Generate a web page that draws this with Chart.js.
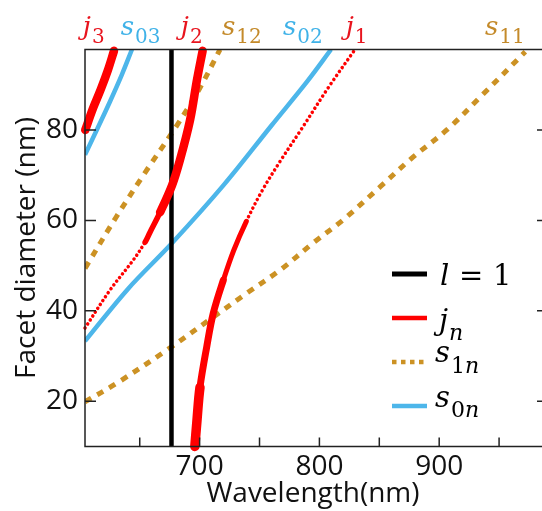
<!DOCTYPE html>
<html>
<head>
<meta charset="utf-8">
<script src="https://cdn.jsdelivr.net/npm/chart.js@4.4.1/dist/chart.umd.min.js"></script>
<style>
  html, body { margin: 0; padding: 0; background: #fff; }
</style>
</head>
<body>
<canvas id="chart1" width="542" height="511"></canvas>
<script>
// wavelength (nm) vs facet diameter (nm)
var lineL1 = [{x: 676.5, y: 10}, {x: 676.5, y: 97.8}];
var j3 = [{x: 604.5, y: 80}, {x: 611, y: 84.8}, {x: 617.5, y: 89}, {x: 623.5, y: 93.3}, {x: 628.5, y: 97.5}];
var j2 = [{x: 604.3, y: 36.2}, {x: 625.2, y: 44.6}, {x: 644.5, y: 51.2}, {x: 654.5, y: 55.2}, {x: 658.6, y: 57.4},
          {x: 667, y: 61.8}, {x: 677, y: 67.8}, {x: 683.6, y: 73.4}, {x: 692, y: 82.2}, {x: 697.8, y: 91.1}, {x: 702.5, y: 97.5}];
var j1 = [{x: 696, y: 10}, {x: 697.8, y: 15.8}, {x: 700.3, y: 23.1}, {x: 705.9, y: 32}, {x: 711.4, y: 39.5},
          {x: 719.8, y: 46.8}, {x: 728.5, y: 53.4}, {x: 739, y: 59.8}, {x: 752, y: 66.5}, {x: 767.5, y: 73.2},
          {x: 784.5, y: 80}, {x: 808, y: 89.6}, {x: 829.7, y: 97.8}];
var s03 = [{x: 604.3, y: 74.5}, {x: 615, y: 80.5}, {x: 625, y: 86.2}, {x: 635, y: 92.2}, {x: 643.5, y: 97.8}];
var s02 = [{x: 604.3, y: 33.3}, {x: 640, y: 44.8}, {x: 677, y: 55}, {x: 720, y: 67.8}, {x: 760, y: 81},
           {x: 790, y: 90.8}, {x: 809.7, y: 97.8}];
var s12 = [{x: 604.3, y: 49.4}, {x: 630, y: 60.6}, {x: 655, y: 70.8}, {x: 680, y: 80.6}, {x: 700, y: 89.2}, {x: 717, y: 97.8}];
var s11 = [{x: 604.3, y: 19.9}, {x: 630.8, y: 24}, {x: 672.5, y: 31.3}, {x: 711.2, y: 38.6}, {x: 739.3, y: 43.9},
           {x: 767.1, y: 49}, {x: 794.7, y: 55}, {x: 819.7, y: 60.1}, {x: 850.6, y: 67.4}, {x: 878.1, y: 74},
           {x: 906.3, y: 80}, {x: 934.3, y: 87.3}, {x: 971.9, y: 97.3}];

var xTicks = [650, 700, 750, 800, 850, 900, 950];
var xLabels = [700, 800, 900];
var yTicks = [20, 40, 60, 80];

var RED = '#ff0000', BLUE = '#4db6ea', GOLD = '#cc9224';

// curve names along the top edge: [letter, subscript, wavelength of left edge, colour]
var topTags = [
  ['j', '3', 602.5, '#e8141e'], ['s', '03', 634.1, '#3fb2e8'], ['j', '2', 684.3, '#e8141e'],
  ['s', '12', 718.7, '#c48a2a'], ['s', '02', 769.6, '#3fb2e8'], ['j', '1', 822, '#e8141e'],
  ['s', '11', 938.2, '#c48a2a']
];

var SERIF = '"DejaVu Serif", serif';
var SANS = '"Open Sans", "Liberation Sans", sans-serif';

function mathText(c, x, y, main, sub, color, big, small, drop) {
  c.fillStyle = color;
  c.textAlign = 'left';
  c.textBaseline = 'alphabetic';
  c.font = 'italic ' + big + 'px ' + SERIF;
  c.fillText(main, x, y);
  x += c.measureText(main).width + 1;
  for (var i = 0; i < sub.length; i++) {
    var ch = sub[i];
    c.font = (ch === 'n' ? 'italic ' : '') + small + 'px ' + SERIF;
    c.fillText(ch, x, y + drop);
    x += c.measureText(ch).width;
  }
}

var frame = {
  id: 'frame',
  afterDraw: function (chart) {
    var c = chart.ctx, a = chart.chartArea, xs = chart.scales.x, ys = chart.scales.y;
    c.save();
    c.strokeStyle = '#222';
    c.lineWidth = 1.5;
    c.beginPath();
    c.moveTo(542, a.top); c.lineTo(a.left, a.top); c.lineTo(a.left, a.bottom); c.lineTo(542, a.bottom);
    xTicks.forEach(function (v) {
      var p = xs.getPixelForValue(v);
      c.moveTo(p, a.bottom); c.lineTo(p, a.bottom - 9);
    });
    yTicks.forEach(function (v) {
      var p = ys.getPixelForValue(v);
      c.moveTo(a.left, p); c.lineTo(a.left + 11, p);
      c.moveTo(542, p); c.lineTo(537, p);
    });
    c.stroke();

    topTags.forEach(function (t) {
      mathText(c, xs.getPixelForValue(t[2]), 35, t[0], t[1], t[3], 26, 20, 8);
    });

    // legend
    var lx = 392, lw = 35;
    c.lineWidth = 5; c.strokeStyle = '#000';
    c.beginPath(); c.moveTo(lx, 274); c.lineTo(lx + lw, 274); c.stroke();
    c.lineWidth = 4.5; c.strokeStyle = RED;
    c.beginPath(); c.moveTo(lx, 318); c.lineTo(lx + lw, 318); c.stroke();
    c.lineWidth = 4.5; c.strokeStyle = GOLD; c.setLineDash([4.5, 4.5]);
    c.beginPath(); c.moveTo(lx, 362); c.lineTo(lx + lw, 362); c.stroke();
    c.setLineDash([]);
    c.lineWidth = 4.5; c.strokeStyle = BLUE;
    c.beginPath(); c.moveTo(lx, 406); c.lineTo(lx + lw, 406); c.stroke();

    c.fillStyle = '#000';
    c.font = 'italic 29px ' + SERIF;
    c.fillText('l', 440, 285);
    c.font = '29px ' + SERIF;
    c.fillText('=', 459, 285);
    c.fillText('1', 493, 285);
    mathText(c, 439, 330, 'j', 'n', '#000', 29, 22, 10);
    mathText(c, 435, 362, 's', '1n', '#000', 29, 22, 11);
    mathText(c, 435, 407, 's', '0n', '#000', 29, 22, 10);
    c.restore();
  }
};

function midY(ctx) { return (ctx.p0.parsed.y + ctx.p1.parsed.y) / 2; }
function widthJ2(ctx) { var y = midY(ctx); return y < 56 ? 3.5 : (y < 62 ? 5.5 : 8.5); }
function dashJ2(ctx) { return midY(ctx) < 56 ? [0.1, 4.6] : []; }
function widthJ1(ctx) { var y = midY(ctx); return y < 25 ? 9.5 : (y < 45 ? 7 : (y < 58 ? 5 : 3.5)); }
function dashJ1(ctx) { return midY(ctx) < 58 ? [] : [0.1, 4.8]; }

function curve(data, color, width, order, extra) {
  var ds = {
    data: data, showLine: true, borderColor: color, backgroundColor: color,
    borderWidth: width, pointRadius: 0, tension: 0.35, order: order, fill: false
  };
  for (var k in extra) ds[k] = extra[k];
  return ds;
}

function build() {
  var ctx = document.getElementById('chart1').getContext('2d');
  return new Chart(ctx, {
    type: 'scatter',
    data: {
      datasets: [
        curve(s11, GOLD, 5, 6, {borderDash: [7, 7]}),
        curve(s12, GOLD, 5, 6, {borderDash: [7, 7]}),
        curve(s02, BLUE, 4.5, 5, {}),
        curve(s03, BLUE, 4.5, 5, {}),
        curve(lineL1, '#000', 4.5, 4, {tension: 0}),
        curve(j3, RED, 8.5, 1, {borderCapStyle: 'round', clip: 6}),
        curve(j2, RED, 8.5, 1, {borderCapStyle: 'round', clip: 6,
          segment: {borderWidth: widthJ2, borderDash: dashJ2}}),
        curve(j1, RED, 9.5, 1, {borderCapStyle: 'round', clip: 6,
          segment: {borderWidth: widthJ1, borderDash: dashJ1}})
      ]
    },
    options: {
      responsive: false,
      devicePixelRatio: 1,
      animation: false,
      layout: { padding: { top: 49.5, right: 1, left: 0, bottom: 0 } },
      plugins: { legend: { display: false }, tooltip: { enabled: false } },
      scales: {
        x: {
          type: 'linear', min: 604.3, max: 985,
          afterBuildTicks: function (s) { s.ticks = xTicks.map(function (v) { return {value: v}; }); },
          afterFit: function (s) { s.height = 64.5; },
          grid: { display: false, drawTicks: false },
          border: { display: false },
          ticks: {
            padding: 4, color: '#111', maxRotation: 0, autoSkip: false,
            font: { family: SANS, size: 28 },
            callback: function (v) { return xLabels.indexOf(v) >= 0 ? String(v) : ''; }
          },
          title: {
            display: true, text: 'Wavelength(nm)', color: '#111',
            font: { family: SANS, size: 28 }, padding: { top: 0, bottom: 0 }
          }
        },
        y: {
          type: 'linear', min: 10, max: 97.8,
          afterBuildTicks: function (s) { s.ticks = yTicks.map(function (v) { return {value: v}; }); },
          afterFit: function (s) { s.width = 85; },
          grid: { display: false, drawTicks: false },
          border: { display: false },
          ticks: { padding: 7, color: '#111', font: { family: SANS, size: 28 } },
          title: {
            display: true, text: 'Facet diameter (nm)', color: '#111',
            font: { family: SANS, size: 28 }, padding: { top: 10, bottom: 0 }
          }
        }
      }
    },
    plugins: [frame]
  });
}

Promise.all([
  document.fonts.load('italic 26px "DejaVu Serif"'),
  document.fonts.load('26px "DejaVu Serif"'),
  document.fonts.load('28px "Open Sans"')
]).then(build, build);
</script>
</body>
</html>
